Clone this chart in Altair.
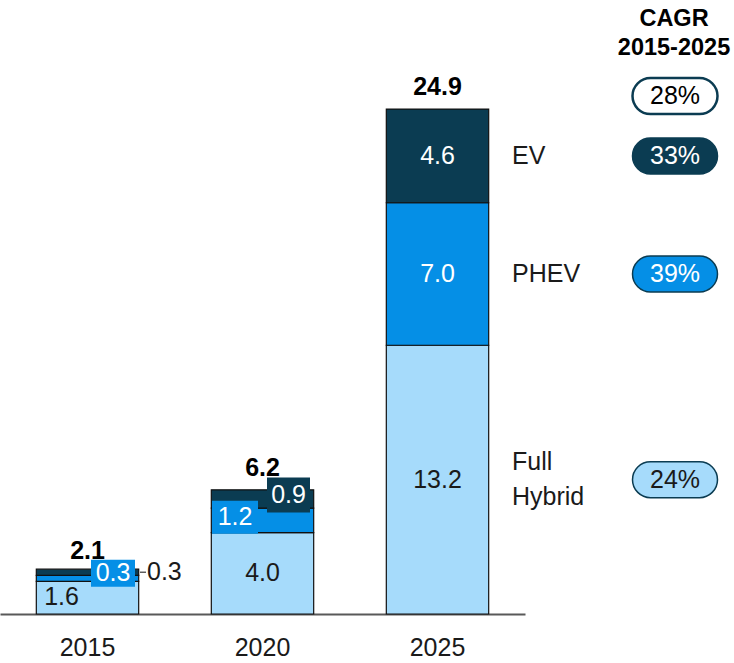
import altair as alt
import pandas as pd

# ---------------- data ----------------
years = ["2015", "2020", "2025"]
series = ["Full Hybrid", "PHEV", "EV"]
full_hybrid = [1.6, 4.0, 13.2]
phev = [0.3, 1.2, 7.0]
ev = [0.3, 0.9, 4.6]
totals = [2.1, 6.2, 24.9]
series_names = ["Full\nHybrid", "PHEV", "EV"]
cagr_keys = ["Full Hybrid", "PHEV", "EV"]
cagr_values = ["24%", "39%", "33%"]
cagr_total = "28%"
cagr_title = "CAGR\n2015-2025"

# ---------------- style ----------------
FONT = "Liberation Sans, Arial, sans-serif"
C_LIGHT, C_MID, C_DARK = "#a6dbfb", "#058fe6", "#0b3c52"
INK = "#1a1a1a"
fill_of = {"Full Hybrid": C_LIGHT, "PHEV": C_MID, "EV": C_DARK}
text_of = {"Full Hybrid": INK, "PHEV": "white", "EV": "white"}
FS = 25
LH = 35

# label placement tweaks (pixels) for the crowded small bars
special = {
    ("2015", "Full Hybrid"): dict(dx=-26, dy=-1),
    ("2015", "PHEV"): dict(dx=25.5, dy=-5, box=(44, 27)),
    ("2015", "EV"): dict(dx=59.5, dy=0, align="left", color=INK),
    ("2020", "PHEV"): dict(dx=-27.5, dy=-3, box=(46, 33)),
    ("2020", "EV"): dict(dx=26, dy=-4, box=(43, 35)),
}

rows = []
for i, yr in enumerate(years):
    base = 0.0
    for s, vals in zip(series, [full_hybrid, phev, ev]):
        v = vals[i]
        rows.append(dict(year=yr, series=s, value=v, start=base, end=base + v,
                         mid=base + v / 2, label=f"{v:.1f}"))
        base += v
df = pd.DataFrame(rows)
df_tot = pd.DataFrame({"year": years, "total": totals,
                       "label": [f"{t:.1f}" for t in totals]})

last = df[df.year == years[-1]].set_index("series")
df_names = pd.DataFrame({"series": series, "name": series_names,
                         "ypos": [last.loc[s, "mid"] for s in series]})
df_cagr = pd.DataFrame({"series": cagr_keys, "cagr": cagr_values,
                        "ypos": [last.loc[s, "mid"] for s in cagr_keys]})
df_cagr["fill"] = df_cagr.series.map(fill_of)
df_cagr["tcolor"] = df_cagr.series.map(text_of)
df_ctot = pd.DataFrame({"cagr": [cagr_total], "ypos": [totals[-1]]})


def rect_path(w, h):
    r = h / w
    return f"M-1,{-r}L1,{-r}L1,{r}L-1,{r}Z"


def pill_path(w, h):
    r = h / w
    a = 1 - r
    return (f"M{-a},{-r}L{a},{-r}A{r},{r} 0 0 1 {a},{r}"
            f"L{-a},{r}A{r},{r} 0 0 1 {-a},{-r}Z")


xscale = alt.Scale(domain=years, paddingInner=0.415, paddingOuter=0.2075)
yscale = alt.Scale(domain=[0, 30.16], nice=False, zero=True)
xaxis = alt.Axis(title=None, labelAngle=0, ticks=False, domainColor="#595959",
                 domainWidth=2, labelFontSize=FS, labelFont=FONT,
                 labelColor=INK, labelPadding=21, grid=False)
X = alt.X("year:N", scale=xscale, axis=xaxis, title=None)


def Y(field):
    return alt.Y(f"{field}:Q", scale=yscale, axis=None, title=None)


base = alt.Chart(df)

bars = base.mark_bar(stroke="#111111", strokeWidth=1.2).encode(
    x=X, y=Y("start"), y2="end:Q",
    color=alt.Color("series:N", scale=alt.Scale(domain=series,
                    range=[fill_of[s] for s in series]), legend=None),
)

layers = [bars]
for _, r in df.iterrows():
    st = special.get((r.year, r.series), {})
    sel = base.transform_filter((alt.datum.year == r.year) & (alt.datum.series == r.series))
    if "box" in st:
        w, h = st["box"]
        layers.append(sel.mark_point(shape=rect_path(w, h), size=w * w, filled=True,
                                     opacity=1, fill=fill_of[r.series], strokeWidth=0,
                                     xOffset=st["dx"], yOffset=st["dy"]).encode(x=X, y=Y("mid")))
    layers.append(sel.mark_text(font=FONT, fontSize=FS, align=st.get("align", "center"),
                                baseline="middle", dx=st.get("dx", 0), dy=st.get("dy", 0),
                                color=st.get("color", text_of[r.series])).encode(
        x=X, y=Y("mid"), text="label:N"))

# leader tick for the outside label on the first bar
layers.append(base.transform_filter((alt.datum.year == years[0]) & (alt.datum.series == "EV"))
              .mark_tick(size=6, thickness=1.5, color=INK, xOffset=55.5, orient="horizontal")
              .encode(x=X, y=Y("mid")))

totals_layer = alt.Chart(df_tot).mark_text(font=FONT, fontSize=FS, fontWeight="bold",
                                           baseline="alphabetic", dy=-12, color="black").encode(
    x=X, y=Y("total"), text="label:N")
layers.append(totals_layer)

# series names beside the last bar (multi-line names centred on the segment)
for _, r in df_names.iterrows():
    nlines = r["name"].count("\n") + 1
    layers.append(alt.Chart(df_names).transform_filter(alt.datum.series == r.series)
                  .mark_text(font=FONT, fontSize=FS, align="left", baseline="middle",
                             lineBreak="\n", lineHeight=LH, color=INK,
                             dy=-(nlines - 1) * LH / 2)
                  .encode(x=alt.value(512), y=Y("ypos"), text="name:N"))

PW, PH = 85, 36
pills = alt.Chart(df_cagr).mark_point(shape=pill_path(PW, PH), size=PW * PW, filled=True,
                                      opacity=1, stroke=C_DARK, strokeWidth=1.5).encode(
    x=alt.value(675), y=Y("ypos"), fill=alt.Fill("fill:N", scale=None))
pill_text = alt.Chart(df_cagr).mark_text(font=FONT, fontSize=FS, baseline="middle").encode(
    x=alt.value(675), y=Y("ypos"), text="cagr:N", color=alt.Color("tcolor:N", scale=None))
tot_pill = alt.Chart(df_ctot).mark_point(shape=pill_path(PW, PH), size=PW * PW, filled=True,
                                         opacity=1, fill="white", stroke=C_DARK,
                                         strokeWidth=2.5, yOffset=-11).encode(
    x=alt.value(675), y=Y("ypos"))
tot_pill_text = alt.Chart(df_ctot).mark_text(font=FONT, fontSize=FS, baseline="middle",
                                             dy=-11, color="black").encode(
    x=alt.value(675), y=Y("ypos"), text="cagr:N")
header = alt.Chart(pd.DataFrame({"t": [cagr_title]})).mark_text(
    font=FONT, fontSize=23.5, fontWeight="bold", lineBreak="\n", lineHeight=29,
    baseline="middle", color="black").encode(
    x=alt.value(674), y=alt.value(19), text="t:N")
layers += [pills, pill_text, tot_pill, tot_pill_text, header]

chart = alt.layer(*layers).properties(
    width=525, height=614,
    autosize=alt.AutoSizeParams(type="none"),
    padding={"left": 0, "top": 0, "right": 209, "bottom": 49},
    background="white",
).configure_view(strokeWidth=0, strokeOpacity=0)

chart.save("out.html", embed_options={"renderer": "svg", "actions": False})
